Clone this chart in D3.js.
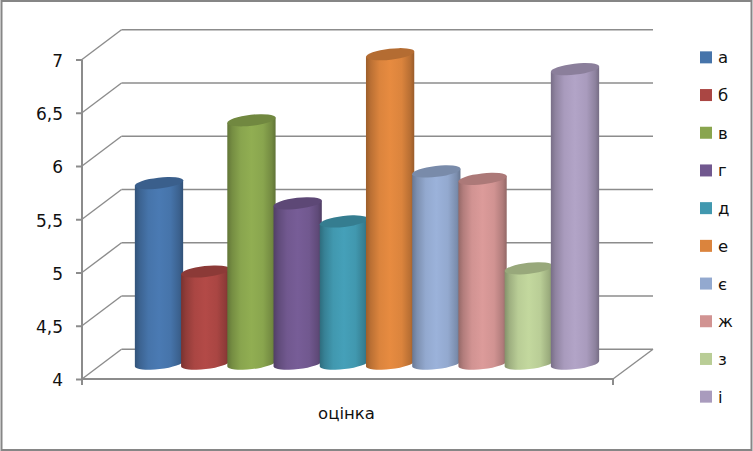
<!DOCTYPE html>
<html><head><meta charset="utf-8">
<script src="https://cdnjs.cloudflare.com/ajax/libs/d3/7.8.5/d3.min.js"></script>
<style>html,body{margin:0;padding:0;background:#fff}svg{display:block}text{font-family:"DejaVu Sans",sans-serif;fill:#111}</style>
</head><body><svg id="c" width="753" height="451"></svg>
<script>
const categories = ["а","б","в","г","д","е","є","ж","з","і"];
const values = [5.7,4.87,6.29,5.51,5.34,6.91,5.81,5.74,4.9,6.77];
const colors = ["#4674aa","#aa4643","#89a54e","#71588f","#4198af","#db843d","#93a9cf","#d19392","#b9cd96","#a99bbd"];
const yTicks = [4,4.5,5,5.5,6,6.5,7];
const xTitle = "оцінка";

const svg = d3.select("#c");
const defs = svg.append("defs");
const W = 753, H = 451;
svg.append("rect").attr("x",1.5).attr("y",1).attr("width",W-3).attr("height",H-2)
  .attr("fill","#fff").attr("stroke","#868686").attr("stroke-width",2);

const front = {l:82, r:613, dx:39.5, dy:-29.7};
const y = d3.scaleLinear().domain([4,7]).range([379,59.5]);
const x = d3.scalePoint().domain(categories).range([159,575]);
const gridColor = "#8c8c8c";

const g = svg.append("g");
g.selectAll("line.back").data(yTicks).join("line").attr("class","back")
  .attr("x1",front.l+front.dx).attr("x2",front.r+front.dx+0.5)
  .attr("y1",d=>y(d)+front.dy).attr("y2",d=>y(d)+front.dy)
  .attr("stroke",gridColor).attr("stroke-width",1.6);
g.selectAll("line.side").data(yTicks).join("line").attr("class","side")
  .attr("x1",front.l).attr("x2",front.l+front.dx)
  .attr("y1",d=>y(d)).attr("y2",d=>y(d)+front.dy)
  .attr("stroke",gridColor).attr("stroke-width",1.4);
g.append("line").attr("x1",front.l).attr("x2",front.r).attr("y1",y(4)).attr("y2",y(4)).attr("stroke",gridColor).attr("stroke-width",2);
g.append("line").attr("x1",front.r).attr("x2",front.r+front.dx+0.5).attr("y1",y(4)).attr("y2",y(4)+front.dy).attr("stroke",gridColor).attr("stroke-width",1.4);
g.append("line").attr("x1",front.r).attr("x2",front.r).attr("y1",y(4)).attr("y2",y(4)+6).attr("stroke",gridColor).attr("stroke-width",2);
g.append("line").attr("x1",front.l).attr("x2",front.l).attr("y1",y(4)).attr("y2",y(4)+6).attr("stroke",gridColor).attr("stroke-width",2);

const axis = g.append("g").attr("transform",`translate(${front.l},0)`)
  .call(d3.axisLeft(y).tickValues(yTicks).tickSize(6).tickPadding(13)
    .tickFormat(d=>String(d).replace(".",",")));
axis.selectAll("path,line").attr("stroke",gridColor).attr("stroke-width",2);
axis.select("path").attr("d",`M0,${y(7)}V${y(4)}`);
axis.selectAll("text").attr("font-size",17).attr("fill","#111").attr("font-family",'"DejaVu Sans",sans-serif').attr("transform","translate(0,1.5)");

const rx = 24.3, ry = 5.5, tilt = -6.5;
const midDy = front.dy/2;
const hex = c=>d3.color(c);
colors.forEach((c,i)=>{
  const lg = defs.append("linearGradient").attr("id","g"+i);
  const stops = [[0,hex(c).darker(0.95)],[0.1,hex(c).darker(0.45)],[0.28,hex(c)],[0.5,hex(c).brighter(0.15)],[0.74,hex(c)],[0.92,hex(c).darker(0.5)],[1,hex(c).darker(1)]];
  stops.forEach(s=>lg.append("stop").attr("offset",s[0]).attr("stop-color",s[1]));
});
const rad = -tilt*Math.PI/180;
const ex = rx*Math.cos(rad), dyT = rx*Math.sin(rad);
const cyl = g.selectAll("g.cyl").data(values).join("g").attr("class","cyl");
cyl.append("path")
  .attr("d",(d,i)=>{
    const cx = x(categories[i]), t = y(d)+midDy, b = y(4)+midDy-0.5;
    return `M${cx-ex},${t+dyT}L${cx-ex},${b+dyT}`+
      `A${rx},${ry} ${tilt} 0 0 ${cx+ex},${b-dyT}L${cx+ex},${t-dyT}Z`;
  })
  .attr("fill",(d,i)=>`url(#g${i})`);
cyl.append("ellipse")
  .attr("rx",rx).attr("ry",ry)
  .attr("transform",(d,i)=>`translate(${x(categories[i])},${y(d)+midDy}) rotate(${tilt})`)
  .attr("fill",(d,i)=>d3.color(colors[i]).darker(0.55));

svg.append("text").attr("x",346.5).attr("y",419).attr("text-anchor","middle").attr("font-size",16.5).text(xTitle);

const ly = d3.scaleBand().domain(categories).range([38.5,415.5]);
const leg = svg.selectAll("g.leg").data(categories).join("g").attr("class","leg")
  .attr("transform",d=>`translate(700,${ly(d)+ly.bandwidth()/2})`);
leg.append("rect").attr("x",0).attr("y",-6).attr("width",12).attr("height",12).attr("fill",(d,i)=>colors[i]);
leg.append("text").attr("x",18).attr("y",6).attr("font-size",16.5).text(d=>d);
</script></body></html>
